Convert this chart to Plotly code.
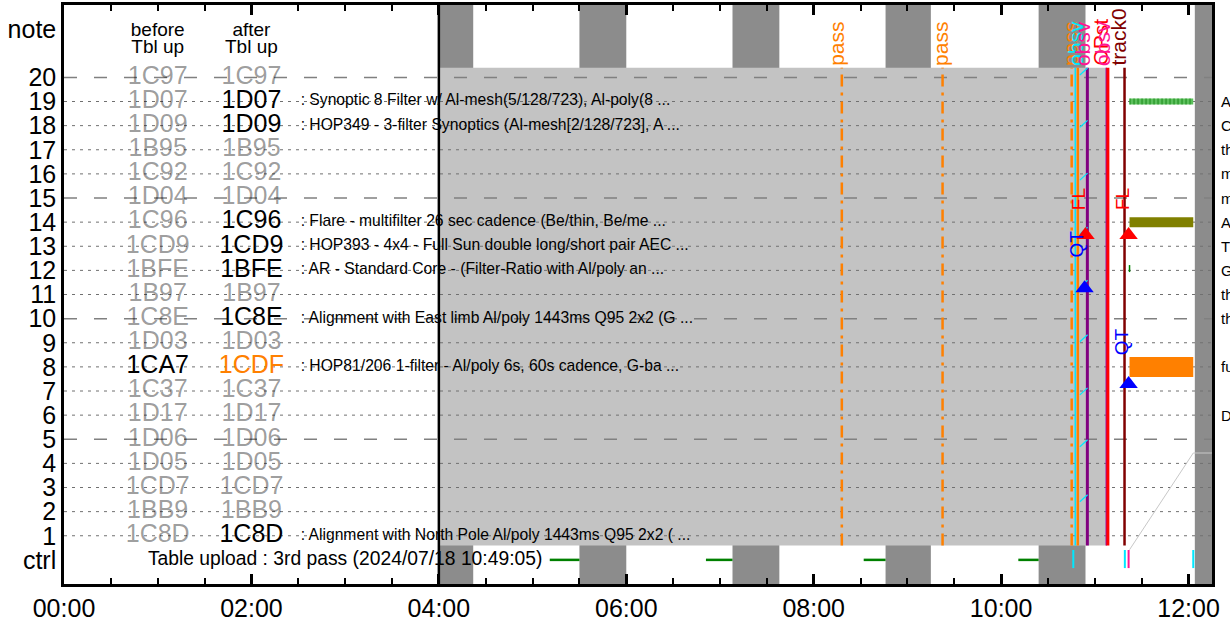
import plotly.graph_objects as go

DAY = "2024-07-18 "


def T(s):
    return DAY + s


FONT = "Liberation Sans, Arial, sans-serif"

# ---------------- data ----------------
row_numbers = [20, 19, 18, 17, 16, 15, 14, 13, 12, 11, 10, 9, 8, 7, 6, 5, 4, 3, 2, 1]
before_codes = ["1C97", "1D07", "1D09", "1B95", "1C92", "1D04", "1C96", "1CD9", "1BFE", "1B97",
                "1C8E", "1D03", "1CA7", "1C37", "1D17", "1D06", "1D05", "1CD7", "1BB9", "1C8D"]
after_codes = ["1C97", "1D07", "1D09", "1B95", "1C92", "1D04", "1C96", "1CD9", "1BFE", "1B97",
               "1C8E", "1D03", "1CDF", "1C37", "1D17", "1D06", "1D05", "1CD7", "1BB9", "1C8D"]
before_state = ["off", "off", "off", "off", "off", "off", "off", "off", "off", "off",
                "off", "off", "on", "off", "off", "off", "off", "off", "off", "off"]
after_state = ["off", "on", "on", "off", "off", "off", "on", "on", "on", "off",
               "on", "off", "new", "off", "off", "off", "off", "off", "off", "on"]

desc_rows = [19, 18, 14, 13, 12, 10, 8, 1]
desc_texts = [
    ": Synoptic 8 Filter w/ Al-mesh(5/128/723), Al-poly(8 ...",
    ": HOP349 - 3-filter Synoptics (Al-mesh[2/128/723], A ...",
    ": Flare - multifilter 26 sec cadence (Be/thin, Be/me ...",
    ": HOP393 - 4x4 - Full Sun double long/short pair AEC ...",
    ": AR - Standard Core - (Filter-Ratio with Al/poly an ...",
    ": Alignment with East limb Al/poly 1443ms Q95 2x2 (G ...",
    ": HOP81/206 1-filter - Al/poly 6s, 60s cadence, G-ba ...",
    ": Alignment with North Pole Al/poly 1443ms Q95 2x2 ( ...",
]
ctrl_text = "Table upload : 3rd pass (2024/07/18 10:49:05)"

dark_band_start = ["04:00", "05:30", "07:08", "08:46", "10:24", "12:04"]
dark_band_end = ["04:22", "06:00", "07:38", "09:15", "10:54", "12:15"]
active_start, active_end = "04:00", "11:07:30"
active_row_lo, active_row_hi = 0.6, 20.4

pass_times = ["08:18:00", "09:22:30", "10:45:10"]
upload_time = "10:49:05"
cyan_time = "10:47:28"
purple_time = "10:55:12"
magenta_time = "11:07:20"
red_time = "11:08:20"
maroon_time = "11:19:00"

ctrl_green_start = ["05:11", "06:51", "08:32", "10:11"]
ctrl_green_end = ["05:30", "07:08", "08:46", "10:24"]
ctrl_tick_times = ["10:46:12", "11:19:12", "11:21:36", "12:03:00"]
ctrl_tick_kind = ["cyan", "cyan", "pink", "cyan"]

cyan_diag_rows = [20.1, 17.93, 15.74, 13.5, 11.3, 9.04, 6.84, 4.69, 2.41]
cyan_diag_x0, cyan_diag_x1 = "10:50:24", "10:55:20"

fl_marker_times = ["10:54:00", "11:21:36"]
fl_marker_rows = [13.47, 13.47]
qt_marker_times = ["10:53:24", "11:21:36"]
qt_marker_rows = [11.26, 7.29]
fl_label_times = ["10:50:00", "11:18:04"]
fl_label_rows = [14.42, 14.42]
qt_label_times = ["10:48:00", "11:17:06"]
qt_label_rows = [12.43, 8.40]

top_label_times = ["08:15:00", "09:21:00", "10:44:50", "10:47:40", "10:51:40", "11:03:30", "11:05:00", "11:15:00"]
top_label_texts = ["pass", "pass", "pass", "obsv", "obsv", "OPst", "obsv", "track0"]
top_label_kind = ["orange", "orange", "orange", "cyan", "pink", "red", "pink", "maroon"]

bar_rows = [19, 14, 8]
bar_start, bar_end = "11:22:12", "12:03:00"
bar_kind = ["green", "olive", "orange"]
tick12_time, tick12_lo, tick12_hi = "11:22:12", 11.93, 12.22

leader_times = ["11:22:12", "12:03:00", "12:15:00"]
leader_rows = [0.42, 4.43, 4.43]

right_rows = [19, 18, 17, 16, 15, 14, 13, 12, 11, 10, 8, 6]
right_texts = ["A", "C", "th", "m", "m", "A", "T", "G", "th", "th", "fu", "D"]

x_ticks = ["00:00", "02:00", "04:00", "06:00", "08:00", "10:00", "12:00"]

# ---------------- styles ----------------
C = {
    "orange": "#ff8000", "cyan": "#00e8ff", "pink": "#ff1493", "red": "#ff0000",
    "maroon": "#800000", "purple": "#800080", "magenta": "#a000a0", "blue": "#0000ff",
    "green": "#008000", "olive": "#808000",
}
state_color = {"off": "rgba(0,0,0,0.40)", "on": "#000000", "new": C["orange"]}

fig = go.Figure()

# background bands
shapes = []
for s, e in zip(dark_band_start, dark_band_end):
    shapes.append(dict(type="rect", xref="x", yref="paper", x0=T(s), x1=T(e), y0=0, y1=1,
                       fillcolor="#8c8c8c", line_width=0, layer="below"))
shapes.append(dict(type="rect", xref="x", yref="y", x0=T(active_start), x1=T(active_end),
                   y0=active_row_lo, y1=active_row_hi, fillcolor="#c3c3c3", line_width=0, layer="below"))

# gridlines
x_full = [T("00:00"), T("12:15")]
dot_x, dot_y, dash_x, dash_y = [], [], [], []
for r in row_numbers:
    if r % 5 == 0:
        dash_x += x_full + [None]
        dash_y += [r, r, None]
    else:
        dot_x += x_full + [None]
        dot_y += [r, r, None]
fig.add_trace(go.Scatter(x=dot_x, y=dot_y, mode="lines",
                         line=dict(color="#707070", width=1, dash="3px,5px")))
fig.add_trace(go.Scatter(x=dash_x, y=dash_y, mode="lines",
                         line=dict(color="#808080", width=1.5, dash="13px,17px")))

# 04:00 black line
fig.add_trace(go.Scatter(x=[T("04:00"), T("04:00")], y=[-1, 23], mode="lines",
                         line=dict(color="black", width=2.5)))


# event lines
def vline(tm, color, width, dash="solid"):
    fig.add_trace(go.Scatter(x=[T(tm), T(tm)], y=[active_row_lo, active_row_hi], mode="lines",
                             line=dict(color=color, width=width, dash=dash)))


for p in pass_times:
    vline(p, C["orange"], 2.5, "12px,6px,3px,6px")
vline(cyan_time, C["cyan"], 1.5)
vline(upload_time, C["orange"], 2.5)
vline(purple_time, C["purple"], 3)
vline(magenta_time, C["magenta"], 1.5)
vline(red_time, C["red"], 3)
vline(maroon_time, C["maroon"], 2.5)

# cyan diagonal ticks
dx, dy = [], []
for r in cyan_diag_rows:
    dx += [T(cyan_diag_x0), T(cyan_diag_x1), None]
    dy += [r, r + 0.29, None]
fig.add_trace(go.Scatter(x=dx, y=dy, mode="lines", line=dict(color=C["cyan"], width=1.2)))

# ctrl row
gx, gy = [], []
for s, e in zip(ctrl_green_start, ctrl_green_end):
    gx += [T(s), T(e), None]
    gy += [0, 0, None]
fig.add_trace(go.Scatter(x=gx, y=gy, mode="lines", line=dict(color=C["green"], width=2.5)))
for tm, k in zip(ctrl_tick_times, ctrl_tick_kind):
    fig.add_trace(go.Scatter(x=[T(tm), T(tm)], y=[-0.34, 0.41], mode="lines",
                             line=dict(color=C[k], width=2)))
fig.add_trace(go.Scatter(x=[T(t) for t in leader_times], y=leader_rows, mode="lines",
                         line=dict(color="#c8c8c8", width=1)))

# right bars
for r, k in zip(bar_rows, bar_kind):
    xs = [T(bar_start), T(bar_end)]
    if k == "green":
        fig.add_trace(go.Scatter(x=xs, y=[r, r], mode="lines", line=dict(color="#5cc05c", width=6)))
        fig.add_trace(go.Scatter(x=xs, y=[r, r], mode="lines",
                                 line=dict(color="#1a8a1a", width=6, dash="1px,3px")))
    elif k == "olive":
        fig.add_trace(go.Scatter(x=xs, y=[r, r], mode="lines", line=dict(color=C["olive"], width=10)))
    else:
        fig.add_trace(go.Scatter(x=xs, y=[r, r], mode="lines", line=dict(color=C["orange"], width=20)))
fig.add_trace(go.Scatter(x=[T(tick12_time), T(tick12_time)], y=[tick12_lo, tick12_hi], mode="lines",
                         line=dict(color=C["green"], width=1.5)))

# codes
fig.add_trace(go.Scatter(x=[T("01:00")] * len(row_numbers), y=row_numbers, mode="text",
                         text=before_codes, textposition="middle center",
                         textfont=dict(family=FONT, size=25, color=[state_color[s] for s in before_state])))
fig.add_trace(go.Scatter(x=[T("02:00")] * len(row_numbers), y=row_numbers, mode="text",
                         text=after_codes, textposition="middle center",
                         textfont=dict(family=FONT, size=25, color=[state_color[s] for s in after_state])))
fig.add_trace(go.Scatter(x=[T("01:00"), T("01:00"), T("02:00"), T("02:00")], y=[21.9, 21.2, 21.9, 21.2],
                         mode="text", text=["before", "Tbl up", "after", "Tbl up"],
                         textposition="middle center", textfont=dict(family=FONT, size=19, color="black")))
fig.add_trace(go.Scatter(x=[T("02:31:30")] * len(desc_rows), y=desc_rows, mode="text", text=desc_texts,
                         textposition="middle right", textfont=dict(family=FONT, size=15.7, color="black")))
fig.add_trace(go.Scatter(x=[T("03:00")], y=[0], mode="text", text=[ctrl_text],
                         textposition="middle center", textfont=dict(family=FONT, size=19.3, color="black")))

# markers
fig.add_trace(go.Scatter(x=[T(t) for t in fl_marker_times], y=fl_marker_rows, mode="markers",
                         marker=dict(symbol="triangle-up", size=16, color=C["red"], line_width=0)))
fig.add_trace(go.Scatter(x=[T(t) for t in qt_marker_times], y=qt_marker_rows, mode="markers",
                         marker=dict(symbol="triangle-up", size=16, color=C["blue"], line_width=0)))

annotations = []
for tm, r in zip(fl_label_times, fl_label_rows):
    annotations.append(dict(x=T(tm), y=r, text="FL", textangle=-90, showarrow=False,
                            xanchor="center", yanchor="bottom",
                            font=dict(family=FONT, size=19, color=C["red"])))
for tm, r in zip(qt_label_times, qt_label_rows):
    annotations.append(dict(x=T(tm), y=r, text="QT", textangle=-90, showarrow=False,
                            xanchor="center", yanchor="bottom",
                            font=dict(family=FONT, size=19, color=C["blue"])))
for tm, txt, k in zip(top_label_times, top_label_texts, top_label_kind):
    annotations.append(dict(x=T(tm), y=active_row_hi + 0.0, text=txt, textangle=-90, showarrow=False,
                            xanchor="center", yanchor="bottom",
                            font=dict(family=FONT, size=21, color=C[k])))
for r, txt in zip(right_rows, right_texts):
    annotations.append(dict(xref="paper", x=1.006, y=r, text=txt, showarrow=False,
                            xanchor="left", yanchor="middle",
                            font=dict(family=FONT, size=15, color="black")))

fig.update_layout(
    width=1230, height=625,
    margin=dict(l=64, r=18, t=5, b=41, autoexpand=False),
    plot_bgcolor="white", paper_bgcolor="white",
    showlegend=False, hovermode=False,
    shapes=shapes, annotations=annotations,
    font=dict(family=FONT, color="black"),
)
fig.update_xaxes(
    type="date", range=[T("00:00"), T("12:15")],
    tickvals=[T(t) for t in x_ticks], ticktext=x_ticks,
    ticks="inside", ticklen=10, tickwidth=2.5, tickcolor="black",
    minor=dict(dtick=1800000, tick0=T("00:00"), ticks="inside", ticklen=6, tickwidth=2,
               tickcolor="black", showgrid=False),
    showline=True, linewidth=2.5, linecolor="black", mirror="ticks",
    showgrid=False, zeroline=False, automargin=False,
    tickfont=dict(family=FONT, size=25, color="black"),
)
fig.update_yaxes(
    range=[-1, 23],
    tickvals=[0] + row_numbers[::-1] + [22],
    ticktext=["ctrl"] + [str(r) for r in row_numbers[::-1]] + ["note"],
    ticks="", showline=True, linewidth=2.5, linecolor="black", mirror=True,
    showgrid=False, zeroline=False, ticklabelstandoff=0, automargin=False,
    tickfont=dict(family=FONT, size=25, color="black"),
)

fig.write_html("out.html", config={"displayModeBar": False},
               post_script="document.body.style.margin='0px';document.body.style.overflow='hidden';")
